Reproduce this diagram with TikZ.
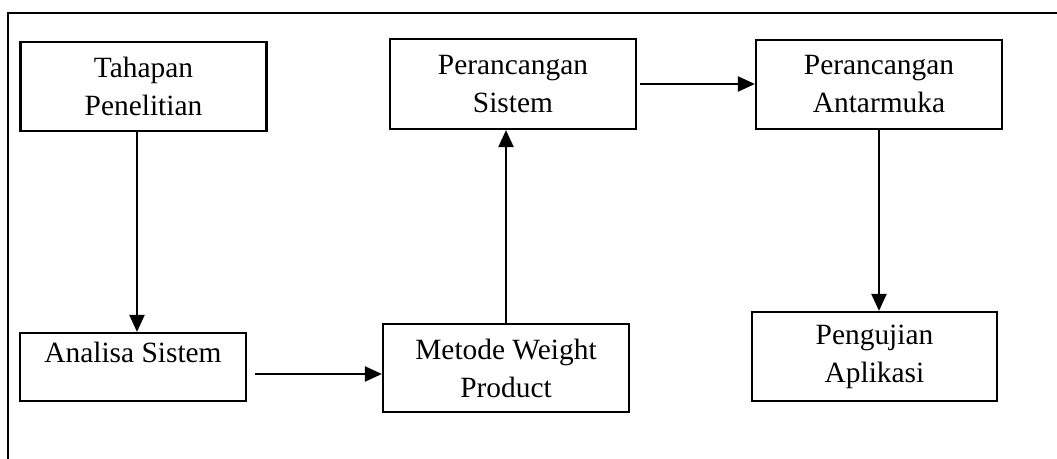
\documentclass[tikz,border=0pt]{standalone}
\usepackage{fontspec}
\setmainfont{Liberation Serif}
\usetikzlibrary{arrows.meta}

\begin{document}
\begin{tikzpicture}[x=0.5pt, y=-0.5pt,
        box/.style={draw, line width=1.1pt, inner sep=0pt, align=center, font=\fontsize{14.7}{19}\selectfont},
        arr/.style={-{Triangle[length=8.5pt,width=7.5pt]}, line width=1.1pt}]
        % Fix the page size
        \useasboundingbox (0,0) rectangle (1057,459);

        % Draw outer frame (only top and left edges are visible)
        \coordinate (F0) at (8,459);
        \coordinate (F1) at (8,13);
        \coordinate (F2) at (1057,13);
        \draw[line width=1.1pt] (F0) -- (F1) -- (F2);

        % Define top row of boxes
        \node[box, minimum width=123pt, minimum height=44.5pt] (tahapan) at (143.5,86.5) {Tahapan\\Penelitian};
        \node[box, minimum width=123pt, minimum height=45pt] (sistem) at (513,84) {Perancangan\\Sistem};
        \node[box, minimum width=123pt, minimum height=44.5pt] (antarmuka) at (879,84.5) {Perancangan\\Antarmuka};

        % Define bottom row of boxes
        \node[box, minimum width=113pt, text height=15pt, text depth=19pt] (analisa) at (133,367) {Analisa Sistem};
        \node[box, minimum width=123pt, minimum height=44pt] (metode) at (506,368) {Metode Weight\\Product};
        \node[box, minimum width=122.5pt, minimum height=44.5pt] (pengujian) at (874.5,356.5) {Pengujian\\Aplikasi};

        % Draw the flow arrows
        \draw[arr] ([xshift=2pt]analisa.north |- tahapan.south) -- ([xshift=2pt]analisa.north);
        \draw[arr] ([xshift=4pt,yshift=-3.5pt]analisa.east) -- ([yshift=-3.5pt]metode.west |- analisa.east);
        \draw[arr] (metode.north) -- (metode.north |- sistem.south);
        \draw[arr] ([xshift=1.5pt]sistem.east) -- (antarmuka.west |- sistem.east);
        \draw[arr] (antarmuka.south) -- (antarmuka.south |- pengujian.north);
\end{tikzpicture}
\end{document}
